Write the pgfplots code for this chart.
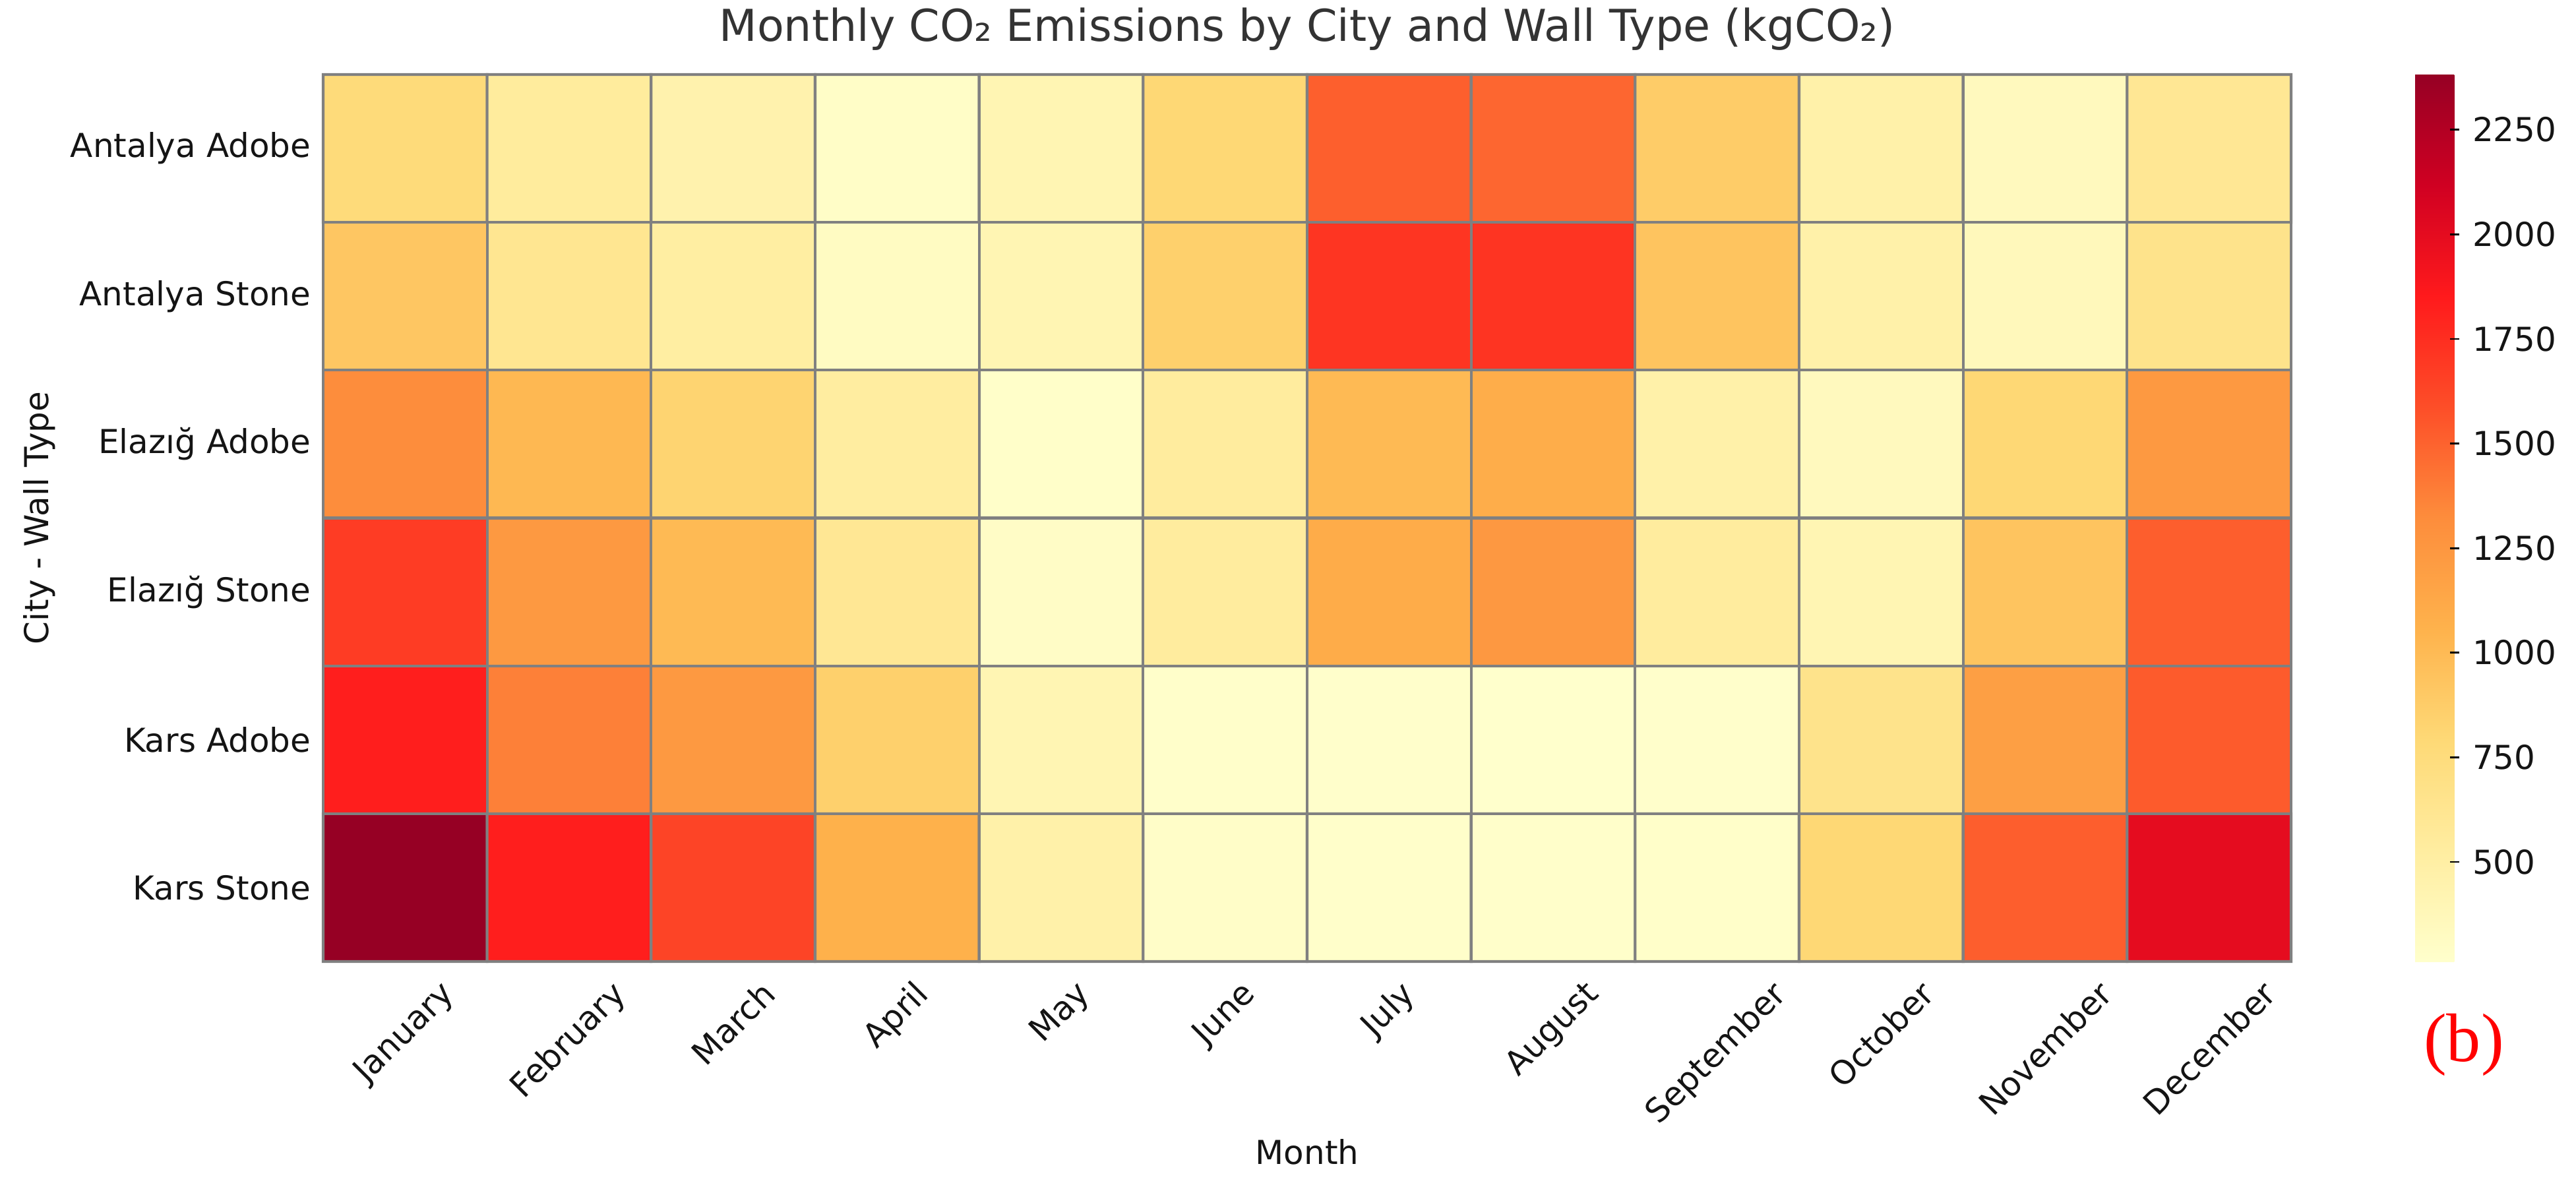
\documentclass[border=0pt]{standalone}
\usepackage{fontspec}
\setmainfont{DejaVu Sans}
\newfontfamily\seriffont{Liberation Serif}
\usepackage{graphicx}
\usepackage{pgfplots}
\pgfplotsset{compat=1.18}
\definecolor{cellgray}{RGB}{128,128,128}
\definecolor{titlegray}{RGB}{51,51,51}
\definecolor{labelblack}{RGB}{20,20,20}

\pgfplotstableread{
x y z
0 0 770
1 0 545
2 0 450
3 0 295
4 0 410
5 0 800
6 0 1515
7 0 1485
8 0 880
9 0 475
10 0 345
11 0 600
0 1 920
1 1 620
2 1 515
3 1 320
4 1 410
5 1 855
6 1 1715
7 1 1720
8 1 935
9 1 475
10 1 365
11 1 660
0 2 1322
1 2 1017
2 2 825
3 2 527
4 2 280
5 2 540
6 2 1005
7 2 1090
8 2 475
9 2 345
10 2 800
11 2 1240
0 3 1678
1 3 1240
2 3 1005
3 3 600
4 3 300
5 3 540
6 3 1100
7 3 1247
8 3 540
9 3 410
10 3 935
11 3 1520
0 4 1830
1 4 1377
2 4 1240
3 4 855
4 4 410
5 4 275
6 4 270
7 4 262
8 4 270
9 4 660
10 4 1190
11 4 1535
0 5 2382
1 5 1830
2 5 1638
3 5 1068
4 5 475
5 5 285
6 5 275
7 5 275
8 5 280
9 5 800
10 5 1520
11 5 2000
}\heatdata

\begin{document}
\begin{tikzpicture}
\useasboundingbox (-117.6pt,-83.52pt) rectangle (819.84pt,349.92pt);
\begin{axis}[
  at={(0pt,0pt)}, anchor=south west,
  scale only axis, width=716.16pt, height=322.8pt,
  xmin=-0.5, xmax=11.5, ymin=-0.5, ymax=5.5, y dir=reverse,
  clip=false,
  axis line style={draw=none},
  xtick={0,...,11}, ytick={0,...,5},
  xticklabels={\rotatebox{45}{January},\rotatebox{45}{February},\rotatebox{45}{March},\rotatebox{45}{April},\rotatebox{45}{May},\rotatebox{45}{June},\rotatebox{45}{July},\rotatebox{45}{August},\rotatebox{45}{September},\rotatebox{45}{October},\rotatebox{45}{November},\rotatebox{45}{December}},
  yticklabels={Antalya Adobe,Antalya Stone,Elazığ Adobe,Elazığ Stone,Kars Adobe,Kars Stone},
  tick align=inside, xtick pos=left, ytick pos=left,
  major tick length=3.5pt,
  tick style={black, line width=0.7pt},
  ticklabel style={font=\fontsize{12}{14}\selectfont, text=labelblack},
  x tick label style={anchor=north, inner sep=0pt, yshift=-6pt},
  y tick label style={anchor=east, inner sep=0pt, xshift=-4.3pt},
  title={Monthly CO₂ Emissions by City and Wall Type (kgCO₂)},
  title style={at={(axis description cs:0.5,1)}, anchor=base, yshift=6.24pt, font=\fontsize{16}{19}\selectfont, text=titlegray},
  xlabel={Month},
  xlabel style={at={(axis description cs:0.5,-0.2283)}, anchor=base, font=\fontsize{12}{14}\selectfont, text=labelblack},
  ylabel={City - Wall Type},
  ylabel style={at={(axis description cs:-0.1395,0.5)}, anchor=base, font=\fontsize{12}{14}\selectfont, text=labelblack},
  colormap={ylorrd}{rgb255=(255,255,204) rgb255=(255,237,160) rgb255=(254,217,118) rgb255=(254,178,76) rgb255=(253,141,60) rgb255=(253,78,40) rgb255=(255,26,28) rgb255=(208,0,34) rgb255=(150,0,36)},
  point meta min=262, point meta max=2382,
  colorbar,
  colorbar style={
    at={(parent axis.north east)}, anchor=north west, xshift=36.6pt,
    scale only axis, width=16.08pt, height=322.8pt,
    axis line style={draw=none},
    ytick={500,750,1000,1250,1500,1750,2000,2250},
    yticklabels={500,750,1000,1250,1500,1750,2000,2250},
    ytick pos=right, yticklabel pos=right, tick align=inside,
    major tick length=3.5pt,
    tick style={black, line width=0.7pt},
    yticklabel style={font=\fontsize{12}{14}\selectfont, text=labelblack, anchor=west, inner sep=0pt, xshift=4.6pt},
  },
]
\addplot[matrix plot*, mesh/cols=12, point meta=explicit, draw=cellgray, line width=1pt] table[x=x, y=y, meta=z] {\heatdata};
\end{axis}
\node[anchor=base, text=red, font=\seriffont\fontsize{25}{30}\selectfont] at (779.04pt,-36.48pt) {(b)};
\end{tikzpicture}
\end{document}
